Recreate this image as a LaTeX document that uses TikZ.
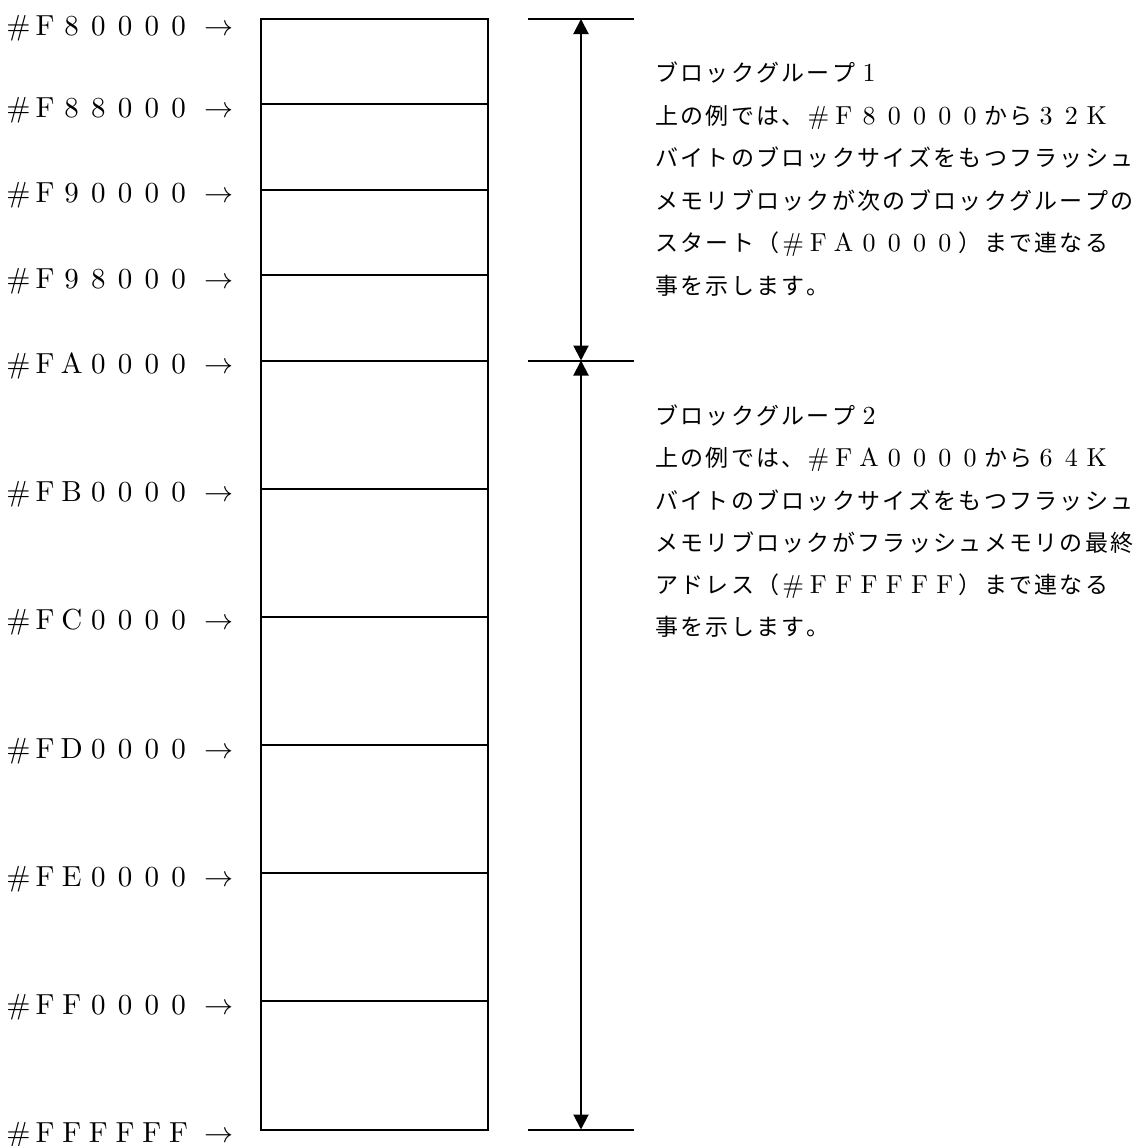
\documentclass[tikz,border=0pt]{standalone}
\usepackage{fix-cm}
\usepackage{fontspec}
\setmainfont{lmroman10-regular.otf}
\newfontfamily\cjk{Noto Sans CJK JP}
\usetikzlibrary{arrows.meta}
\newlength\cellw \setlength\cellw{25.3pt}
\makeatletter
\def\latsel{\fontsize{26}{30}\selectfont}
\def\fwline#1{\fw@loop#1\relax}
\def\fw@loop#1{\ifx#1\relax\else\fw@cell{#1}\expandafter\fw@loop\fi}
\def\fw@cell#1{\ifnum`#1<256 \makebox[\cellw][c]{\latsel #1}\else\makebox[\cellw][c]{\cjk\fontsize{23}{30}\selectfont #1}\fi}
\newcommand\addrlbl[1]{{\setlength\cellw{26.7pt}\def\latsel{\fontsize{29}{32}\selectfont}\fwline{#1}\makebox[54pt][c]{\fontsize{29}{32}\selectfont$\rightarrow$}}}
\makeatother
\tikzset{
  boxline/.style={line width=2pt, line cap=rect},
  dimline/.style={line width=2pt},
  dimarrow/.style={line width=2pt, {Triangle[length=15pt,width=15pt]}-{Triangle[length=15pt,width=15pt]}},
  addr/.style={anchor=base west, inner sep=0pt, outer sep=0pt},
  desc/.style={anchor=base west, inner sep=0pt, outer sep=0pt},
}
\begin{document}
\begin{tikzpicture}[x=1pt,y=-1pt]
\useasboundingbox[fill=white] (0,0) rectangle (1141,1146);
% memory map box
\draw[boxline] (261,19) rectangle (488,1129.5);
\foreach \yy in {104.4,189.75,275.1,360.5,488.7,616.8,745,873.2,1001.3}
  \draw[boxline] (261,\yy) -- (488,\yy);
% address labels
\node[addr] (a0) at (5,35) {\addrlbl{\#F80000}};
\node[addr] (a1) at (5,117.4) {\addrlbl{\#F88000}};
\node[addr] (a2) at (5,202.75) {\addrlbl{\#F90000}};
\node[addr] (a3) at (5,288.1) {\addrlbl{\#F98000}};
\node[addr] (a4) at (5,373.5) {\addrlbl{\#FA0000}};
\node[addr] (a5) at (5,501.7) {\addrlbl{\#FB0000}};
\node[addr] (a6) at (5,629.8) {\addrlbl{\#FC0000}};
\node[addr] (a7) at (5,758) {\addrlbl{\#FD0000}};
\node[addr] (a8) at (5,886.2) {\addrlbl{\#FE0000}};
\node[addr] (a9) at (5,1014.3) {\addrlbl{\#FF0000}};
\node[addr] (a10) at (5,1142) {\addrlbl{\#FFFFFF}};
% dimension lines
\coordinate (tl) at (528,19);   \coordinate (tr) at (634,19);
\coordinate (ml) at (528,360.5); \coordinate (mr) at (634,360.5);
\coordinate (bl) at (528,1129.5); \coordinate (br) at (634,1129.5);
\coordinate (t) at (581,19);
\coordinate (m) at (581,360.5);
\coordinate (b) at (581,1129.5);
\draw[dimline] (tl) -- (tr);
\draw[dimline] (ml) -- (mr);
\draw[dimline] (bl) -- (br);
\draw[dimarrow] (t) -- (m);
\draw[dimarrow] (m) -- (b);
% group 1 text
\node[desc] (g1a) at (654,81.5) {\fwline{ブロックグループ1}};
\node[desc] (g1b) at (654,124) {\fwline{上の例では、\#F80000から32K}};
\node[desc] (g1c) at (654,166.5) {\fwline{バイトのブロックサイズをもつフラッシュ}};
\node[desc] (g1d) at (654,209) {\fwline{メモリブロックが次のブロックグループの}};
\node[desc] (g1e) at (654,251.5) {\fwline{スタート（\#FA0000）まで連なる}};
\node[desc] (g1f) at (654,294) {\fwline{事を示します。}};
% group 2 text
\node[desc] (g2a) at (654,424) {\fwline{ブロックグループ2}};
\node[desc] (g2b) at (654,466) {\fwline{上の例では、\#FA0000から64K}};
\node[desc] (g2c) at (654,509) {\fwline{バイトのブロックサイズをもつフラッシュ}};
\node[desc] (g2d) at (654,551) {\fwline{メモリブロックがフラッシュメモリの最終}};
\node[desc] (g2e) at (654,593) {\fwline{アドレス（\#FFFFFF）まで連なる}};
\node[desc] (g2f) at (654,635) {\fwline{事を示します。}};
\end{tikzpicture}
\end{document}
